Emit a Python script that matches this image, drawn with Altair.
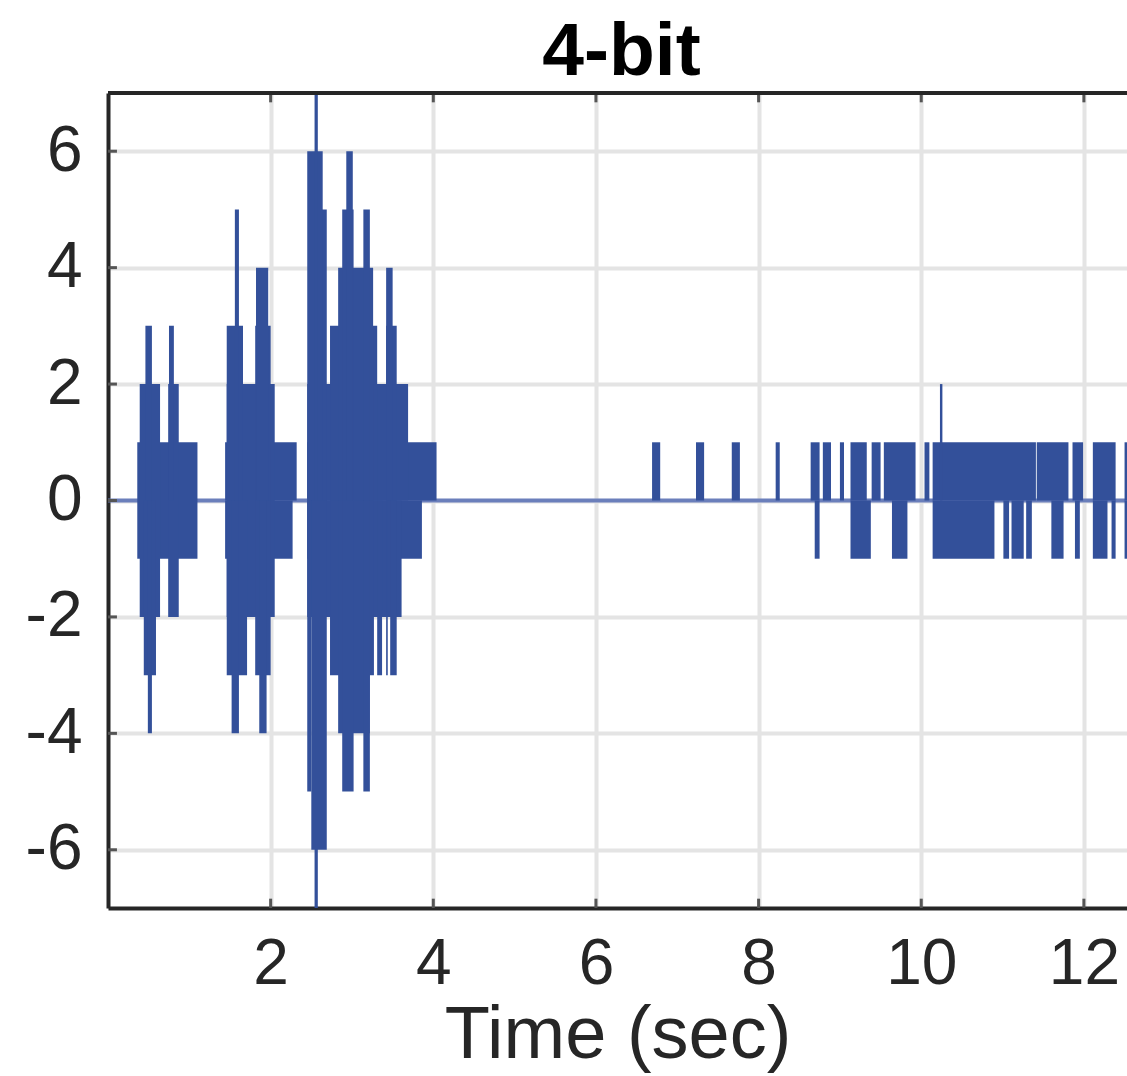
import altair as alt
import pandas as pd

TITLE = "4-bit"
X_TITLE = "Time (sec)"
X_DOMAIN = [0.0, 12.53]
Y_DOMAIN = [-7, 7]
X_TICKS = [2, 4, 6, 8, 10, 12]
Y_TICKS = [-6, -4, -2, 0, 2, 4, 6]

# Quantised (4-bit) signal read from the picture as blocks of samples:
# start time (s), end time (s), lowest level, highest level
seg_t0 = [
    # burst 1
    0.36, 0.39, 0.74, 0.44, 0.46, 0.75, 0.49,
    # burst 2
    1.44, 1.44, 1.46, 1.46, 1.81, 1.82, 1.56, 1.46, 1.81, 1.52, 1.86,
    # burst 3
    2.45, 2.45, 2.45, 2.45, 2.73, 2.50, 2.45, 2.54, 2.83, 2.88, 2.93, 3.14, 3.42, 3.42,
    2.50, 2.45, 2.73, 3.31, 3.42, 3.47, 2.83, 2.88, 3.14,
    # sparse spikes
    6.69, 7.23, 7.67, 8.21,
    # dense tail, upper
    8.64, 8.79, 9.00, 9.13, 9.39, 9.54, 10.04, 10.14, 11.42, 11.86, 12.11, 12.50, 10.23,
    # dense tail, lower
    8.69, 9.13, 9.64, 10.14, 11.01, 11.11, 11.29, 11.60, 11.89, 12.11, 12.34, 12.50,
]
seg_t1 = [
    1.10, 0.64, 0.87, 0.59, 0.54, 0.81, 0.54,
    2.32, 2.27, 2.05, 1.66, 2.00, 1.97, 1.61, 1.71, 2.00, 1.61, 1.95,
    4.04, 3.86, 3.69, 3.61, 3.31, 2.69, 2.64, 2.58, 3.26, 3.02, 3.01, 3.22, 3.55, 3.50,
    2.69, 2.50, 3.27, 3.37, 3.44, 3.55, 3.22, 3.02, 3.22,
    6.79, 7.33, 7.77, 8.26,
    8.75, 8.89, 9.05, 9.33, 9.50, 9.93, 10.10, 11.41, 11.81, 11.99, 12.39, 12.54, 10.26,
    8.75, 9.38, 9.83, 10.90, 11.08, 11.26, 11.36, 11.75, 11.95, 12.29, 12.39, 12.54,
]
seg_lo = [
    -1, -2, -2, -3, 0, 0, -4,
    0, -1, -2, 0, 0, 0, 0, -3, -3, -4, -4,
    0, -1, 0, -2, 0, 0, 0, -7, 0, 0, 0, 0, 0, 0,
    -6, -5, -3, -3, -3, -3, -4, -5, -5,
    0, 0, 0, 0,
    0, 0, 0, 0, 0, 0, 0, 0, 0, 0, 0, 0, 0,
    -1, -1, -1, -1, -1, -1, -1, -1, -1, -1, -1, -1,
]
seg_hi = [
    1, 2, 2, 0, 3, 3, 0,
    1, 0, 2, 3, 3, 4, 5, 0, 0, 0, 0,
    1, 0, 2, 0, 3, 5, 6, 7, 4, 5, 6, 5, 3, 4,
    0, 0, 0, 0, 0, 0, 0, 0, 0,
    1, 1, 1, 1,
    1, 1, 1, 1, 1, 1, 1, 1, 1, 1, 1, 1, 2,
    0, 0, 0, 0, 0, 0, 0, 0, 0, 0, 0, 0,
]

# the signal sits at level 0 across the whole record
zero_t0 = [0.0]
zero_t1 = [12.53]
zero_level = [0]

FONT = "Liberation Sans"
INK = "#262626"
LINE_BLUE = "#33509a"

segs = pd.DataFrame({"t0": seg_t0, "t1": seg_t1, "lo": seg_lo, "hi": seg_hi})
zero = pd.DataFrame({"t0": zero_t0, "t1": zero_t1, "y": zero_level})

xs = alt.Scale(domain=X_DOMAIN, nice=False, zero=False)
ys = alt.Scale(domain=Y_DOMAIN, nice=False, zero=False)

x_axis = alt.Axis(
    values=X_TICKS, format="d", grid=True, gridColor="#e4e4e4", gridWidth=4,
    domainColor=INK, domainWidth=4, ticks=False,
    labelFont=FONT, labelFontSize=64, labelColor=INK, labelPadding=24,
    title=X_TITLE, titleFont=FONT, titleFontSize=74, titleFontWeight="normal",
    titleColor=INK, titlePadding=3,
)
y_axis = alt.Axis(
    values=Y_TICKS, grid=True, gridColor="#e4e4e4", gridWidth=4,
    domainColor=INK, domainWidth=4, ticks=False,
    labelFont=FONT, labelFontSize=64, labelColor=INK, labelPadding=26,
    labelExpr="datum.value < 0 ? '-' + abs(datum.value) : '' + datum.value",
    title=None,
)

base_zero = alt.Chart(zero).mark_rule(color="#6b7fbb", strokeWidth=4).encode(
    x=alt.X("t0:Q", scale=xs, axis=x_axis),
    x2="t1:Q",
    y=alt.Y("y:Q", scale=ys, axis=y_axis),
)

signal = alt.Chart(segs).mark_rect(color=LINE_BLUE, clip=True).encode(
    x=alt.X("t0:Q", scale=xs),
    x2="t1:Q",
    y=alt.Y("lo:Q", scale=ys),
    y2="hi:Q",
)

# inside tick marks (MATLAB style) and the top border
tick_dx = 0.11
tick_dy = 0.16
yt = pd.DataFrame({"y": Y_TICKS})
yt["x0"] = X_DOMAIN[0]
yt["x1"] = X_DOMAIN[0] + tick_dx
xt_b = pd.DataFrame({"x": X_TICKS})
xt_b["y0"] = Y_DOMAIN[0]
xt_b["y1"] = Y_DOMAIN[0] + tick_dy
xt_t = pd.DataFrame({"x": X_TICKS})
xt_t["y0"] = Y_DOMAIN[1]
xt_t["y1"] = Y_DOMAIN[1] - tick_dy

left_ticks = alt.Chart(yt).mark_rule(color="#555555", strokeWidth=3).encode(
    x=alt.X("x0:Q", scale=xs), x2="x1:Q", y=alt.Y("y:Q", scale=ys))
bottom_ticks = alt.Chart(xt_b).mark_rule(color="#555555", strokeWidth=3).encode(
    x=alt.X("x:Q", scale=xs), y=alt.Y("y0:Q", scale=ys), y2="y1:Q")
top_ticks = alt.Chart(xt_t).mark_rule(color="#555555", strokeWidth=3).encode(
    x=alt.X("x:Q", scale=xs), y=alt.Y("y0:Q", scale=ys), y2="y1:Q")
top_border = alt.Chart(zero).mark_rule(color=INK, strokeWidth=4).encode(
    x=alt.datum(X_DOMAIN[0], scale=xs), x2=alt.datum(X_DOMAIN[1]),
    y=alt.datum(Y_DOMAIN[1], scale=ys))

chart = alt.layer(
    base_zero, signal, left_ticks, bottom_ticks, top_ticks, top_border
).properties(
    width=1019, height=815,
    title=alt.TitleParams(TITLE, font=FONT, fontSize=75, fontWeight="bold",
                          color="#000000", anchor="middle", offset=14, dx=4,
                          dy=73, baseline="alphabetic"),
    autosize=alt.AutoSizeParams(type="none"),
    padding={"left": 108, "top": 93, "right": 0, "bottom": 168},
).configure_view(stroke=None).configure(background="white")

chart.save("out.html", embed_options={"renderer": "svg", "actions": False})
